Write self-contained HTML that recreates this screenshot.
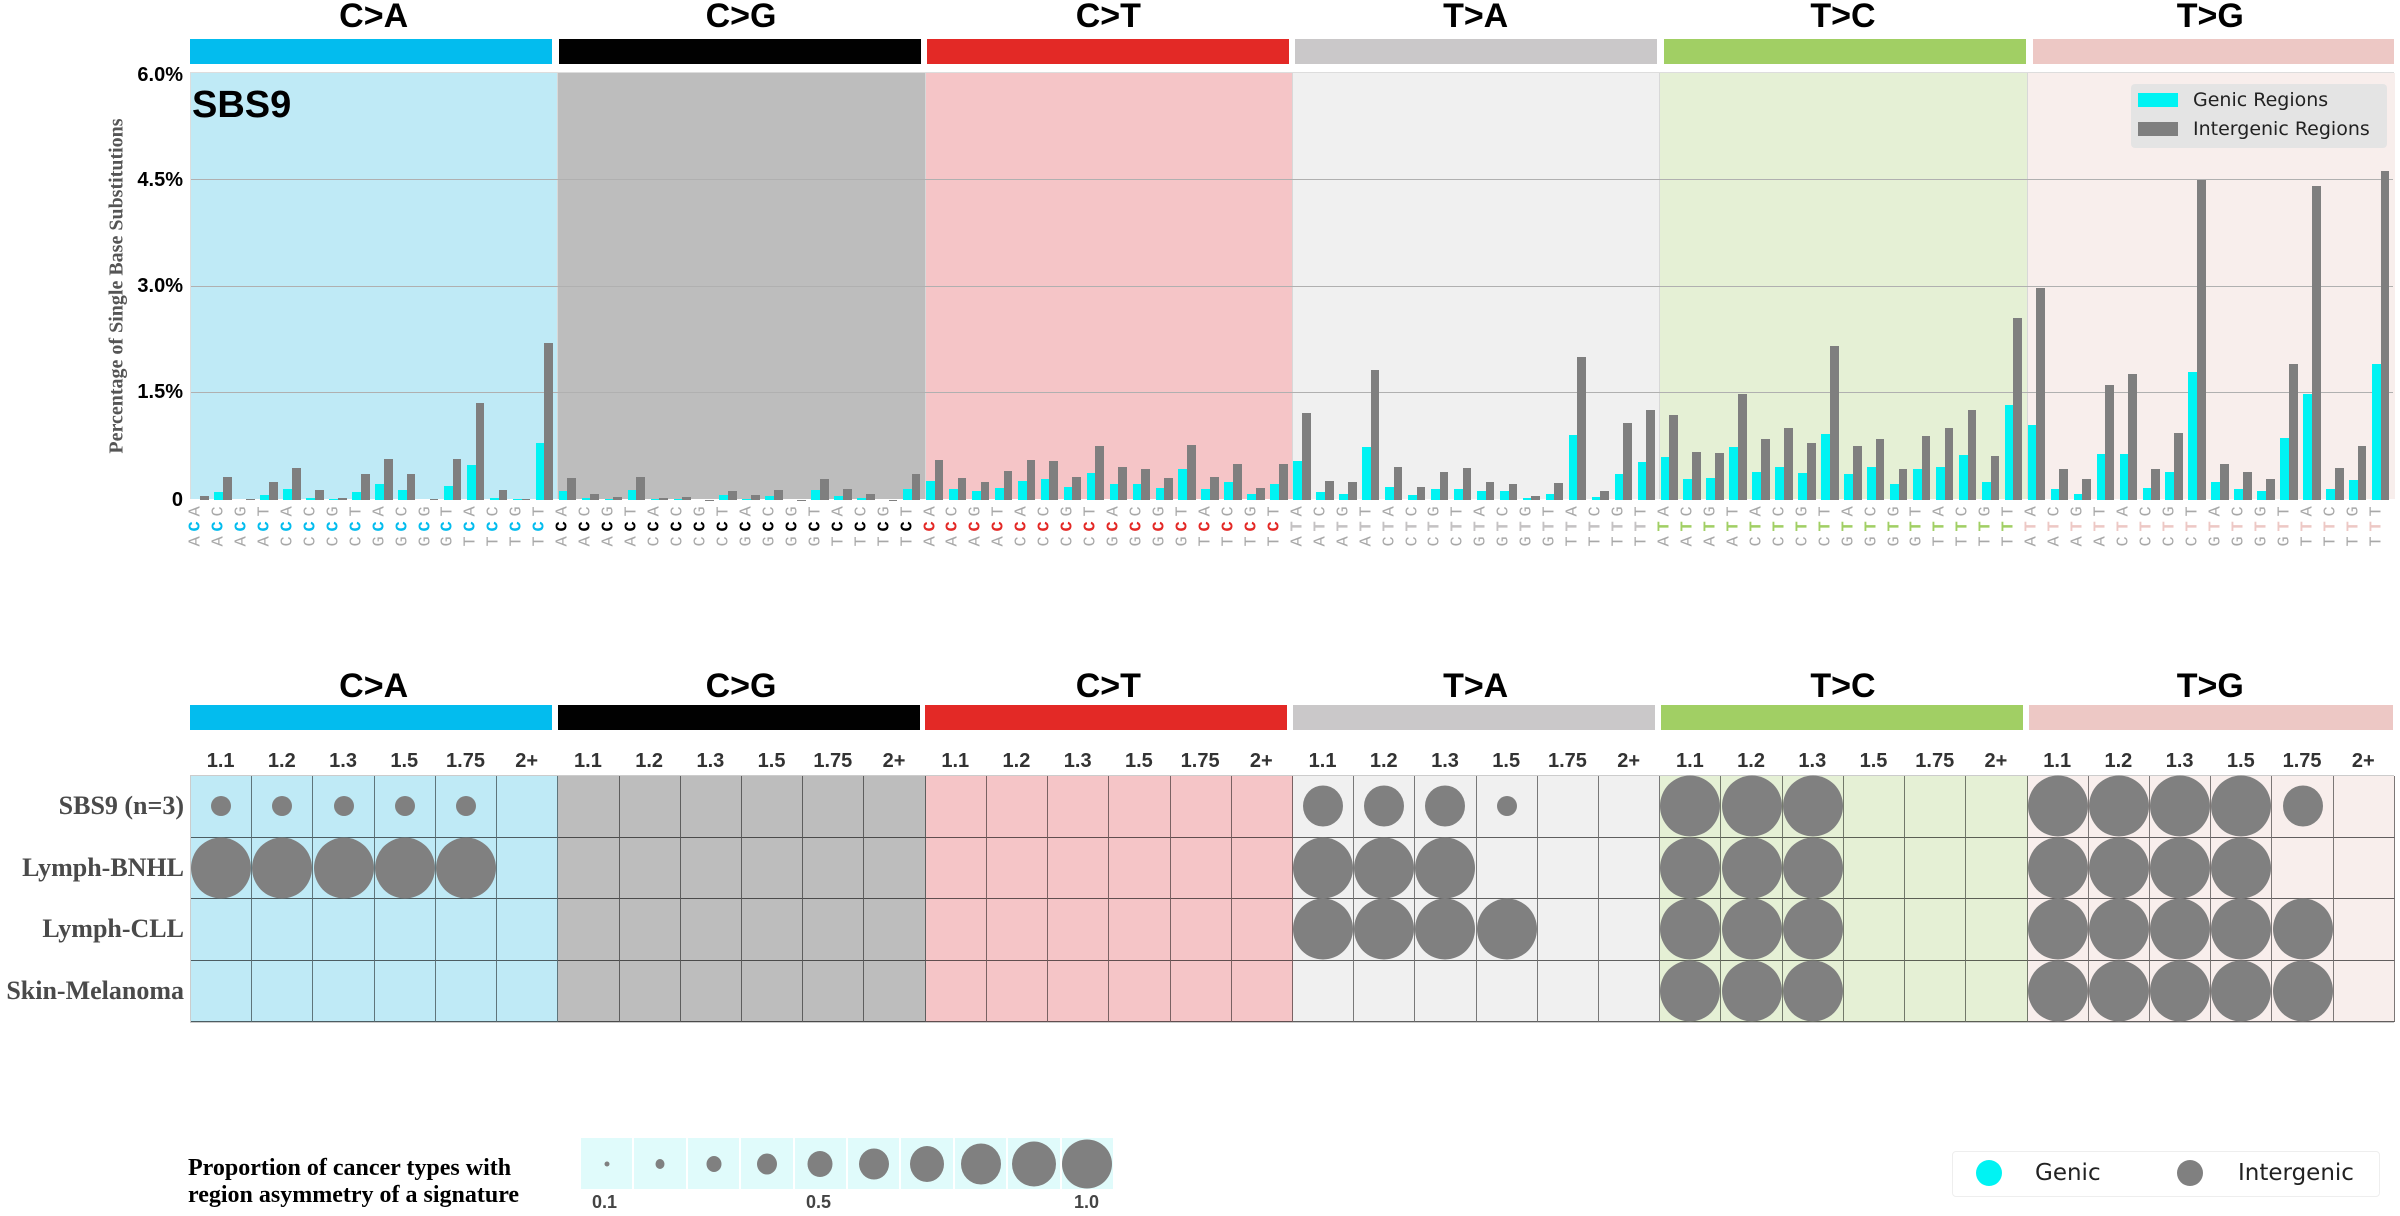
<!DOCTYPE html>
<html><head><meta charset="utf-8"><style>
*{margin:0;padding:0;box-sizing:border-box}
body{width:2400px;height:1216px;background:#fff;position:relative;overflow:hidden;font-family:"Liberation Sans",Arial,sans-serif}
.abs{position:absolute}
.hd{position:absolute;width:367.33px;text-align:center;font-weight:bold;font-size:34px;line-height:34px;color:#000}
.hb{position:absolute;height:25px;width:362px}
.k1{background:#03bcee}.k2{background:#010101}.k3{background:#e32926}.k4{background:#cac8c9}.k5{background:#a1cf64}.k6{background:#edc8c5}
.a{background:#bfeaf6}.b{background:#bdbdbd}.c{background:#f5c5c7}.d{background:#f0f0f0}.e{background:#e5f0d5}.f{background:#f8eeec}
#plot{left:190px;top:72px;width:2204px;height:427px;border:1px solid #ddd;border-bottom:none}
.sec{position:absolute;top:0;height:100%;width:367.33px;border-right:1px solid #d8d8d8}
.gl{position:absolute;left:0;width:100%;height:1px;background:#b0b0b0}
#bars{position:absolute;left:0;top:0;width:2204px;height:427px;display:flex}
.bc{position:relative;width:22.958px;height:100%;flex:none}
.bc i{position:absolute;bottom:0;left:.5px;width:8.7px;background:#00f3f3;height:calc(var(--a)*71px)}
.bc u{position:absolute;bottom:0;left:9.2px;width:8.7px;background:#7f7f7f;height:calc(var(--b)*71px)}
.yt{position:absolute;right:2217px;font-weight:bold;font-size:20px;line-height:22px;text-align:right;color:#000}
#labs{left:190px;top:500px;width:2204px;height:48px;display:flex}
.lc{position:relative;width:22.958px;height:48px;flex:none}
.lc span{position:absolute;left:6px;top:50%;transform:translate(-50%,-50%) rotate(-90deg);white-space:nowrap;font-family:"Liberation Mono",monospace;font-size:17px;line-height:17px;letter-spacing:4.8px;color:#a8a8a8}
.s1 b{color:#03bcee}.s2 b{color:#000}.s3 b{color:#e32926}.s4 b{color:#c4c2c3}.s5 b{color:#a1cf64}.s6 b{color:#edc8c5}
#grid{left:190px;top:775px;width:2204px;border:1px solid #ccc}
.r{display:flex;height:61.5px}
.r p{position:relative;width:61.222px;height:61.5px;flex:none;border-right:1px solid rgba(0,0,0,.5);border-bottom:1px solid rgba(0,0,0,.6)}
.r s{position:absolute;left:50%;top:50%;transform:translate(-50%,-50%);border-radius:50%;background:#808080}
s.L{width:60px;height:61px}s.M{width:40px;height:41px}s.S{width:20px;height:20px}
.rl{position:absolute;right:2216px;font-family:"Liberation Serif",serif;font-weight:bold;font-size:26px;line-height:26px;color:#4a4a4a;white-space:nowrap}
#cols{left:190px;top:749px;width:2204px;display:flex}
#cols div{width:61.222px;text-align:center;font-weight:bold;font-size:20px;line-height:24px;color:#333;flex:none}
</style></head><body>

<div class="hd" style="left:190px;top:-1px">C&gt;A</div>
<div class="hd" style="left:557.33px;top:-1px">C&gt;G</div>
<div class="hd" style="left:924.67px;top:-1px">C&gt;T</div>
<div class="hd" style="left:1292px;top:-1px">T&gt;A</div>
<div class="hd" style="left:1659.33px;top:-1px">T&gt;C</div>
<div class="hd" style="left:2026.67px;top:-1px">T&gt;G</div>
<div class="hb k1" style="left:190px;top:39px"></div>
<div class="hb k2" style="left:559px;top:39px"></div>
<div class="hb k3" style="left:927px;top:39px"></div>
<div class="hb k4" style="left:1295px;top:39px"></div>
<div class="hb k5" style="left:1664px;top:39px"></div>
<div class="hb k6" style="left:2033px;top:39px;width:361px"></div>

<div id="plot" class="abs">
<div class="sec a" style="left:0"></div>
<div class="sec b" style="left:367.33px"></div>
<div class="sec c" style="left:734.67px"></div>
<div class="sec d" style="left:1102px"></div>
<div class="sec e" style="left:1469.33px"></div>
<div class="sec f" style="left:1836.67px;border-right:none"></div>
<div class="gl" style="top:106px"></div>
<div class="gl" style="top:213px"></div>
<div class="gl" style="top:319px"></div>
<div id="bars">
<div class="bc" style="--a:0;--b:.05"><i></i><u></u></div>
<div class="bc" style="--a:.11;--b:.32"><i></i><u></u></div>
<div class="bc" style="--a:0;--b:.02"><i></i><u></u></div>
<div class="bc" style="--a:.07;--b:.25"><i></i><u></u></div>
<div class="bc" style="--a:.15;--b:.45"><i></i><u></u></div>
<div class="bc" style="--a:.035;--b:.14"><i></i><u></u></div>
<div class="bc" style="--a:.01;--b:.03"><i></i><u></u></div>
<div class="bc" style="--a:.11;--b:.37"><i></i><u></u></div>
<div class="bc" style="--a:.23;--b:.58"><i></i><u></u></div>
<div class="bc" style="--a:.14;--b:.37"><i></i><u></u></div>
<div class="bc" style="--a:0;--b:.01"><i></i><u></u></div>
<div class="bc" style="--a:.20;--b:.58"><i></i><u></u></div>
<div class="bc" style="--a:.49;--b:1.37"><i></i><u></u></div>
<div class="bc" style="--a:.035;--b:.14"><i></i><u></u></div>
<div class="bc" style="--a:.01;--b:.02"><i></i><u></u></div>
<div class="bc" style="--a:.80;--b:2.21"><i></i><u></u></div>

<div class="bc" style="--a:.12;--b:.31"><i></i><u></u></div>
<div class="bc" style="--a:.03;--b:.09"><i></i><u></u></div>
<div class="bc" style="--a:.01;--b:.04"><i></i><u></u></div>
<div class="bc" style="--a:.14;--b:.33"><i></i><u></u></div>
<div class="bc" style="--a:.01;--b:.03"><i></i><u></u></div>
<div class="bc" style="--a:.01;--b:.04"><i></i><u></u></div>
<div class="bc" style="--a:0;--b:.005"><i></i><u></u></div>
<div class="bc" style="--a:.07;--b:.13"><i></i><u></u></div>
<div class="bc" style="--a:.02;--b:.07"><i></i><u></u></div>
<div class="bc" style="--a:.05;--b:.14"><i></i><u></u></div>
<div class="bc" style="--a:0;--b:.005"><i></i><u></u></div>
<div class="bc" style="--a:.14;--b:.29"><i></i><u></u></div>
<div class="bc" style="--a:.06;--b:.15"><i></i><u></u></div>
<div class="bc" style="--a:.03;--b:.08"><i></i><u></u></div>
<div class="bc" style="--a:0;--b:.005"><i></i><u></u></div>
<div class="bc" style="--a:.15;--b:.36"><i></i><u></u></div>

<div class="bc" style="--a:.27;--b:.56"><i></i><u></u></div>
<div class="bc" style="--a:.15;--b:.31"><i></i><u></u></div>
<div class="bc" style="--a:.13;--b:.26"><i></i><u></u></div>
<div class="bc" style="--a:.17;--b:.41"><i></i><u></u></div>
<div class="bc" style="--a:.27;--b:.56"><i></i><u></u></div>
<div class="bc" style="--a:.30;--b:.55"><i></i><u></u></div>
<div class="bc" style="--a:.19;--b:.32"><i></i><u></u></div>
<div class="bc" style="--a:.38;--b:.76"><i></i><u></u></div>
<div class="bc" style="--a:.23;--b:.47"><i></i><u></u></div>
<div class="bc" style="--a:.23;--b:.43"><i></i><u></u></div>
<div class="bc" style="--a:.17;--b:.31"><i></i><u></u></div>
<div class="bc" style="--a:.43;--b:.77"><i></i><u></u></div>
<div class="bc" style="--a:.15;--b:.33"><i></i><u></u></div>
<div class="bc" style="--a:.26;--b:.51"><i></i><u></u></div>
<div class="bc" style="--a:.08;--b:.17"><i></i><u></u></div>
<div class="bc" style="--a:.23;--b:.51"><i></i><u></u></div>

<div class="bc" style="--a:.55;--b:1.23"><i></i><u></u></div>
<div class="bc" style="--a:.11;--b:.27"><i></i><u></u></div>
<div class="bc" style="--a:.08;--b:.25"><i></i><u></u></div>
<div class="bc" style="--a:.74;--b:1.83"><i></i><u></u></div>
<div class="bc" style="--a:.19;--b:.47"><i></i><u></u></div>
<div class="bc" style="--a:.07;--b:.19"><i></i><u></u></div>
<div class="bc" style="--a:.15;--b:.40"><i></i><u></u></div>
<div class="bc" style="--a:.15;--b:.45"><i></i><u></u></div>
<div class="bc" style="--a:.12;--b:.26"><i></i><u></u></div>
<div class="bc" style="--a:.13;--b:.22"><i></i><u></u></div>
<div class="bc" style="--a:.03;--b:.06"><i></i><u></u></div>
<div class="bc" style="--a:.08;--b:.24"><i></i><u></u></div>
<div class="bc" style="--a:.92;--b:2.01"><i></i><u></u></div>
<div class="bc" style="--a:.04;--b:.12"><i></i><u></u></div>
<div class="bc" style="--a:.36;--b:1.08"><i></i><u></u></div>
<div class="bc" style="--a:.53;--b:1.27"><i></i><u></u></div>

<div class="bc" style="--a:.60;--b:1.20"><i></i><u></u></div>
<div class="bc" style="--a:.30;--b:.68"><i></i><u></u></div>
<div class="bc" style="--a:.31;--b:.66"><i></i><u></u></div>
<div class="bc" style="--a:.74;--b:1.50"><i></i><u></u></div>
<div class="bc" style="--a:.40;--b:.86"><i></i><u></u></div>
<div class="bc" style="--a:.46;--b:1.02"><i></i><u></u></div>
<div class="bc" style="--a:.38;--b:.80"><i></i><u></u></div>
<div class="bc" style="--a:.93;--b:2.17"><i></i><u></u></div>
<div class="bc" style="--a:.37;--b:.76"><i></i><u></u></div>
<div class="bc" style="--a:.47;--b:.86"><i></i><u></u></div>
<div class="bc" style="--a:.22;--b:.44"><i></i><u></u></div>
<div class="bc" style="--a:.44;--b:.90"><i></i><u></u></div>
<div class="bc" style="--a:.47;--b:1.01"><i></i><u></u></div>
<div class="bc" style="--a:.64;--b:1.27"><i></i><u></u></div>
<div class="bc" style="--a:.26;--b:.62"><i></i><u></u></div>
<div class="bc" style="--a:1.34;--b:2.56"><i></i><u></u></div>

<div class="bc" style="--a:1.05;--b:2.99"><i></i><u></u></div>
<div class="bc" style="--a:.15;--b:.43"><i></i><u></u></div>
<div class="bc" style="--a:.09;--b:.29"><i></i><u></u></div>
<div class="bc" style="--a:.65;--b:1.62"><i></i><u></u></div>
<div class="bc" style="--a:.65;--b:1.78"><i></i><u></u></div>
<div class="bc" style="--a:.17;--b:.44"><i></i><u></u></div>
<div class="bc" style="--a:.39;--b:.95"><i></i><u></u></div>
<div class="bc" style="--a:1.80;--b:4.51"><i></i><u></u></div>
<div class="bc" style="--a:.26;--b:.51"><i></i><u></u></div>
<div class="bc" style="--a:.16;--b:.40"><i></i><u></u></div>
<div class="bc" style="--a:.13;--b:.30"><i></i><u></u></div>
<div class="bc" style="--a:.87;--b:1.91"><i></i><u></u></div>
<div class="bc" style="--a:1.49;--b:4.42"><i></i><u></u></div>
<div class="bc" style="--a:.16;--b:.45"><i></i><u></u></div>
<div class="bc" style="--a:.28;--b:.76"><i></i><u></u></div>
<div class="bc" style="--a:1.92;--b:4.63"><i></i><u></u></div>
</div>
<div class="abs" style="left:1px;top:12px;font-weight:bold;font-size:38px;line-height:40px;color:#000">SBS9</div>
<div class="abs" style="left:1940px;top:11px;width:256px;height:64px;background:#e4e4e4;border-radius:4px"></div>
<div class="abs" style="left:1947px;top:20px;width:40px;height:14px;background:#00f3f3"></div>
<div class="abs" style="left:1947px;top:49px;width:40px;height:14px;background:#7f7f7f"></div>
<div class="abs" style="left:2002px;top:15px;font-family:'DejaVu Sans',sans-serif;font-size:19px;line-height:24px;color:#222">Genic Regions</div>
<div class="abs" style="left:2002px;top:44px;font-family:'DejaVu Sans',sans-serif;font-size:19px;line-height:24px;color:#222">Intergenic Regions</div>
</div>

<div class="yt" style="top:64px">6.0%</div>
<div class="yt" style="top:169px">4.5%</div>
<div class="yt" style="top:275px">3.0%</div>
<div class="yt" style="top:381px">1.5%</div>
<div class="yt" style="top:489px">0</div>
<div class="abs" style="left:117px;top:286px;transform:translate(-50%,-50%) rotate(-90deg);white-space:nowrap;font-family:'Liberation Serif',serif;font-weight:bold;font-size:20px;color:#555">Percentage of Single Base Substitutions</div>

<div id="labs" class="abs">
<div class="lc s1"><span>A<b>C</b>A</span></div><div class="lc s1"><span>A<b>C</b>C</span></div><div class="lc s1"><span>A<b>C</b>G</span></div><div class="lc s1"><span>A<b>C</b>T</span></div>
<div class="lc s1"><span>C<b>C</b>A</span></div><div class="lc s1"><span>C<b>C</b>C</span></div><div class="lc s1"><span>C<b>C</b>G</span></div><div class="lc s1"><span>C<b>C</b>T</span></div>
<div class="lc s1"><span>G<b>C</b>A</span></div><div class="lc s1"><span>G<b>C</b>C</span></div><div class="lc s1"><span>G<b>C</b>G</span></div><div class="lc s1"><span>G<b>C</b>T</span></div>
<div class="lc s1"><span>T<b>C</b>A</span></div><div class="lc s1"><span>T<b>C</b>C</span></div><div class="lc s1"><span>T<b>C</b>G</span></div><div class="lc s1"><span>T<b>C</b>T</span></div>
<div class="lc s2"><span>A<b>C</b>A</span></div><div class="lc s2"><span>A<b>C</b>C</span></div><div class="lc s2"><span>A<b>C</b>G</span></div><div class="lc s2"><span>A<b>C</b>T</span></div>
<div class="lc s2"><span>C<b>C</b>A</span></div><div class="lc s2"><span>C<b>C</b>C</span></div><div class="lc s2"><span>C<b>C</b>G</span></div><div class="lc s2"><span>C<b>C</b>T</span></div>
<div class="lc s2"><span>G<b>C</b>A</span></div><div class="lc s2"><span>G<b>C</b>C</span></div><div class="lc s2"><span>G<b>C</b>G</span></div><div class="lc s2"><span>G<b>C</b>T</span></div>
<div class="lc s2"><span>T<b>C</b>A</span></div><div class="lc s2"><span>T<b>C</b>C</span></div><div class="lc s2"><span>T<b>C</b>G</span></div><div class="lc s2"><span>T<b>C</b>T</span></div>
<div class="lc s3"><span>A<b>C</b>A</span></div><div class="lc s3"><span>A<b>C</b>C</span></div><div class="lc s3"><span>A<b>C</b>G</span></div><div class="lc s3"><span>A<b>C</b>T</span></div>
<div class="lc s3"><span>C<b>C</b>A</span></div><div class="lc s3"><span>C<b>C</b>C</span></div><div class="lc s3"><span>C<b>C</b>G</span></div><div class="lc s3"><span>C<b>C</b>T</span></div>
<div class="lc s3"><span>G<b>C</b>A</span></div><div class="lc s3"><span>G<b>C</b>C</span></div><div class="lc s3"><span>G<b>C</b>G</span></div><div class="lc s3"><span>G<b>C</b>T</span></div>
<div class="lc s3"><span>T<b>C</b>A</span></div><div class="lc s3"><span>T<b>C</b>C</span></div><div class="lc s3"><span>T<b>C</b>G</span></div><div class="lc s3"><span>T<b>C</b>T</span></div>
<div class="lc s4"><span>A<b>T</b>A</span></div><div class="lc s4"><span>A<b>T</b>C</span></div><div class="lc s4"><span>A<b>T</b>G</span></div><div class="lc s4"><span>A<b>T</b>T</span></div>
<div class="lc s4"><span>C<b>T</b>A</span></div><div class="lc s4"><span>C<b>T</b>C</span></div><div class="lc s4"><span>C<b>T</b>G</span></div><div class="lc s4"><span>C<b>T</b>T</span></div>
<div class="lc s4"><span>G<b>T</b>A</span></div><div class="lc s4"><span>G<b>T</b>C</span></div><div class="lc s4"><span>G<b>T</b>G</span></div><div class="lc s4"><span>G<b>T</b>T</span></div>
<div class="lc s4"><span>T<b>T</b>A</span></div><div class="lc s4"><span>T<b>T</b>C</span></div><div class="lc s4"><span>T<b>T</b>G</span></div><div class="lc s4"><span>T<b>T</b>T</span></div>
<div class="lc s5"><span>A<b>T</b>A</span></div><div class="lc s5"><span>A<b>T</b>C</span></div><div class="lc s5"><span>A<b>T</b>G</span></div><div class="lc s5"><span>A<b>T</b>T</span></div>
<div class="lc s5"><span>C<b>T</b>A</span></div><div class="lc s5"><span>C<b>T</b>C</span></div><div class="lc s5"><span>C<b>T</b>G</span></div><div class="lc s5"><span>C<b>T</b>T</span></div>
<div class="lc s5"><span>G<b>T</b>A</span></div><div class="lc s5"><span>G<b>T</b>C</span></div><div class="lc s5"><span>G<b>T</b>G</span></div><div class="lc s5"><span>G<b>T</b>T</span></div>
<div class="lc s5"><span>T<b>T</b>A</span></div><div class="lc s5"><span>T<b>T</b>C</span></div><div class="lc s5"><span>T<b>T</b>G</span></div><div class="lc s5"><span>T<b>T</b>T</span></div>
<div class="lc s6"><span>A<b>T</b>A</span></div><div class="lc s6"><span>A<b>T</b>C</span></div><div class="lc s6"><span>A<b>T</b>G</span></div><div class="lc s6"><span>A<b>T</b>T</span></div>
<div class="lc s6"><span>C<b>T</b>A</span></div><div class="lc s6"><span>C<b>T</b>C</span></div><div class="lc s6"><span>C<b>T</b>G</span></div><div class="lc s6"><span>C<b>T</b>T</span></div>
<div class="lc s6"><span>G<b>T</b>A</span></div><div class="lc s6"><span>G<b>T</b>C</span></div><div class="lc s6"><span>G<b>T</b>G</span></div><div class="lc s6"><span>G<b>T</b>T</span></div>
<div class="lc s6"><span>T<b>T</b>A</span></div><div class="lc s6"><span>T<b>T</b>C</span></div><div class="lc s6"><span>T<b>T</b>G</span></div><div class="lc s6"><span>T<b>T</b>T</span></div>
</div>

<div class="hd" style="left:190px;top:669px">C&gt;A</div>
<div class="hd" style="left:557.33px;top:669px">C&gt;G</div>
<div class="hd" style="left:924.67px;top:669px">C&gt;T</div>
<div class="hd" style="left:1292px;top:669px">T&gt;A</div>
<div class="hd" style="left:1659.33px;top:669px">T&gt;C</div>
<div class="hd" style="left:2026.67px;top:669px">T&gt;G</div>
<div class="hb k1" style="left:190px;top:705px"></div>
<div class="hb k2" style="left:558px;top:705px"></div>
<div class="hb k3" style="left:925px;top:705px"></div>
<div class="hb k4" style="left:1293px;top:705px"></div>
<div class="hb k5" style="left:1661px;top:705px"></div>
<div class="hb k6" style="left:2029px;top:705px;width:364px"></div>

<div id="cols" class="abs">
<div>1.1</div><div>1.2</div><div>1.3</div><div>1.5</div><div>1.75</div><div>2+</div>
<div>1.1</div><div>1.2</div><div>1.3</div><div>1.5</div><div>1.75</div><div>2+</div>
<div>1.1</div><div>1.2</div><div>1.3</div><div>1.5</div><div>1.75</div><div>2+</div>
<div>1.1</div><div>1.2</div><div>1.3</div><div>1.5</div><div>1.75</div><div>2+</div>
<div>1.1</div><div>1.2</div><div>1.3</div><div>1.5</div><div>1.75</div><div>2+</div>
<div>1.1</div><div>1.2</div><div>1.3</div><div>1.5</div><div>1.75</div><div>2+</div>
</div>

<div class="rl" style="top:793px">SBS9 (n=3)</div>
<div class="rl" style="top:855px">Lymph-BNHL</div>
<div class="rl" style="top:916px">Lymph-CLL</div>
<div class="rl" style="top:978px">Skin-Melanoma</div>

<div id="grid" class="abs">
<div class="r">
<p class="a"><s class="S"></s></p><p class="a"><s class="S"></s></p><p class="a"><s class="S"></s></p><p class="a"><s class="S"></s></p><p class="a"><s class="S"></s></p><p class="a"></p>
<p class="b"></p><p class="b"></p><p class="b"></p><p class="b"></p><p class="b"></p><p class="b"></p>
<p class="c"></p><p class="c"></p><p class="c"></p><p class="c"></p><p class="c"></p><p class="c"></p>
<p class="d"><s class="M"></s></p><p class="d"><s class="M"></s></p><p class="d"><s class="M"></s></p><p class="d"><s class="S"></s></p><p class="d"></p><p class="d"></p>
<p class="e"><s class="L"></s></p><p class="e"><s class="L"></s></p><p class="e"><s class="L"></s></p><p class="e"></p><p class="e"></p><p class="e"></p>
<p class="f"><s class="L"></s></p><p class="f"><s class="L"></s></p><p class="f"><s class="L"></s></p><p class="f"><s class="L"></s></p><p class="f"><s class="M"></s></p><p class="f"></p>
</div>
<div class="r">
<p class="a"><s class="L"></s></p><p class="a"><s class="L"></s></p><p class="a"><s class="L"></s></p><p class="a"><s class="L"></s></p><p class="a"><s class="L"></s></p><p class="a"></p>
<p class="b"></p><p class="b"></p><p class="b"></p><p class="b"></p><p class="b"></p><p class="b"></p>
<p class="c"></p><p class="c"></p><p class="c"></p><p class="c"></p><p class="c"></p><p class="c"></p>
<p class="d"><s class="L"></s></p><p class="d"><s class="L"></s></p><p class="d"><s class="L"></s></p><p class="d"></p><p class="d"></p><p class="d"></p>
<p class="e"><s class="L"></s></p><p class="e"><s class="L"></s></p><p class="e"><s class="L"></s></p><p class="e"></p><p class="e"></p><p class="e"></p>
<p class="f"><s class="L"></s></p><p class="f"><s class="L"></s></p><p class="f"><s class="L"></s></p><p class="f"><s class="L"></s></p><p class="f"></p><p class="f"></p>
</div>
<div class="r">
<p class="a"></p><p class="a"></p><p class="a"></p><p class="a"></p><p class="a"></p><p class="a"></p>
<p class="b"></p><p class="b"></p><p class="b"></p><p class="b"></p><p class="b"></p><p class="b"></p>
<p class="c"></p><p class="c"></p><p class="c"></p><p class="c"></p><p class="c"></p><p class="c"></p>
<p class="d"><s class="L"></s></p><p class="d"><s class="L"></s></p><p class="d"><s class="L"></s></p><p class="d"><s class="L"></s></p><p class="d"></p><p class="d"></p>
<p class="e"><s class="L"></s></p><p class="e"><s class="L"></s></p><p class="e"><s class="L"></s></p><p class="e"></p><p class="e"></p><p class="e"></p>
<p class="f"><s class="L"></s></p><p class="f"><s class="L"></s></p><p class="f"><s class="L"></s></p><p class="f"><s class="L"></s></p><p class="f"><s class="L"></s></p><p class="f"></p>
</div>
<div class="r">
<p class="a"></p><p class="a"></p><p class="a"></p><p class="a"></p><p class="a"></p><p class="a"></p>
<p class="b"></p><p class="b"></p><p class="b"></p><p class="b"></p><p class="b"></p><p class="b"></p>
<p class="c"></p><p class="c"></p><p class="c"></p><p class="c"></p><p class="c"></p><p class="c"></p>
<p class="d"></p><p class="d"></p><p class="d"></p><p class="d"></p><p class="d"></p><p class="d"></p>
<p class="e"><s class="L"></s></p><p class="e"><s class="L"></s></p><p class="e"><s class="L"></s></p><p class="e"></p><p class="e"></p><p class="e"></p>
<p class="f"><s class="L"></s></p><p class="f"><s class="L"></s></p><p class="f"><s class="L"></s></p><p class="f"><s class="L"></s></p><p class="f"><s class="L"></s></p><p class="f"></p>
</div>
</div>

<div class="abs" style="left:188px;top:1155px;font-family:'Liberation Serif',serif;font-weight:bold;font-size:24px;line-height:27px;color:#000;white-space:nowrap">Proportion of cancer types with<br>region asymmetry of a signature</div>
<div class="abs" style="left:581px;top:1138px;width:532px;height:51px;display:flex;gap:2px;background:#fff">
<div style="flex:1;background:#e0fbfb;position:relative"><s style="position:absolute;left:50%;top:50%;transform:translate(-50%,-50%);width:5px;height:5px;border-radius:50%;background:#808080"></s></div>
<div style="flex:1;background:#e0fbfb;position:relative"><s style="position:absolute;left:50%;top:50%;transform:translate(-50%,-50%);width:9px;height:10px;border-radius:50%;background:#808080"></s></div>
<div style="flex:1;background:#e0fbfb;position:relative"><s style="position:absolute;left:50%;top:50%;transform:translate(-50%,-50%);width:15px;height:16px;border-radius:50%;background:#808080"></s></div>
<div style="flex:1;background:#e0fbfb;position:relative"><s style="position:absolute;left:50%;top:50%;transform:translate(-50%,-50%);width:20px;height:21px;border-radius:50%;background:#808080"></s></div>
<div style="flex:1;background:#e0fbfb;position:relative"><s style="position:absolute;left:50%;top:50%;transform:translate(-50%,-50%);width:25px;height:26px;border-radius:50%;background:#808080"></s></div>
<div style="flex:1;background:#e0fbfb;position:relative"><s style="position:absolute;left:50%;top:50%;transform:translate(-50%,-50%);width:30px;height:31px;border-radius:50%;background:#808080"></s></div>
<div style="flex:1;background:#e0fbfb;position:relative"><s style="position:absolute;left:50%;top:50%;transform:translate(-50%,-50%);width:34px;height:36px;border-radius:50%;background:#808080"></s></div>
<div style="flex:1;background:#e0fbfb;position:relative"><s style="position:absolute;left:50%;top:50%;transform:translate(-50%,-50%);width:40px;height:41px;border-radius:50%;background:#808080"></s></div>
<div style="flex:1;background:#e0fbfb;position:relative"><s style="position:absolute;left:50%;top:50%;transform:translate(-50%,-50%);width:44px;height:45px;border-radius:50%;background:#808080"></s></div>
<div style="flex:1;background:#e0fbfb;position:relative"><s style="position:absolute;left:50%;top:50%;transform:translate(-50%,-50%);width:50px;height:49px;border-radius:50%;background:#808080"></s></div>
</div>
<div class="abs" style="left:592px;top:1192px;font-weight:bold;font-size:18px;line-height:20px;color:#444">0.1</div>
<div class="abs" style="left:806px;top:1192px;font-weight:bold;font-size:18px;line-height:20px;color:#444">0.5</div>
<div class="abs" style="left:1074px;top:1192px;font-weight:bold;font-size:18px;line-height:20px;color:#444">1.0</div>

<div class="abs" style="left:1952px;top:1151px;width:428px;height:46px;border:1px solid #eee;border-radius:4px;background:#fff"></div>
<div class="abs" style="left:1976px;top:1160px;width:26px;height:26px;border-radius:50%;background:#00f3f3"></div>
<div class="abs" style="left:2035px;top:1159px;font-family:'DejaVu Sans',sans-serif;font-size:23px;line-height:28px;color:#222">Genic</div>
<div class="abs" style="left:2177px;top:1160px;width:26px;height:26px;border-radius:50%;background:#808080"></div>
<div class="abs" style="left:2238px;top:1159px;font-family:'DejaVu Sans',sans-serif;font-size:23px;line-height:28px;color:#222">Intergenic</div>
</body></html>
